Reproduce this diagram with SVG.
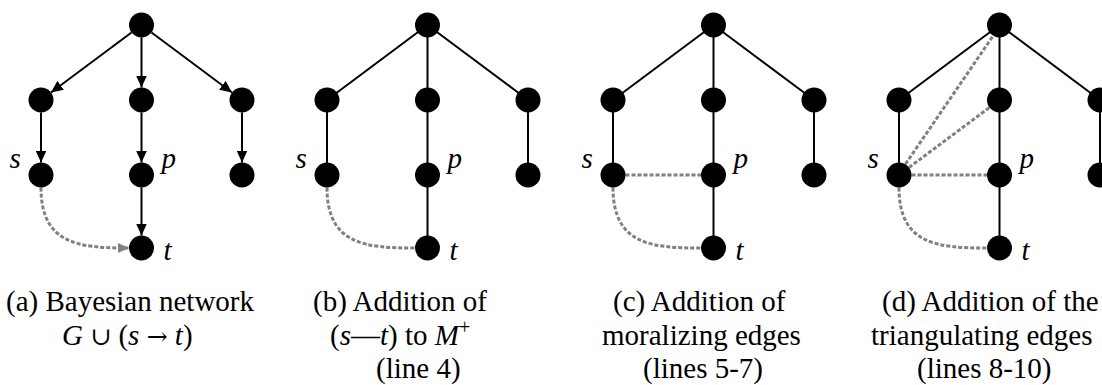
<svg xmlns="http://www.w3.org/2000/svg" width="1102" height="385" viewBox="0 0 1102 385">
  <defs>
    <marker id="arrow" markerUnits="userSpaceOnUse" markerWidth="12" markerHeight="11" refX="12" refY="5.5" orient="auto">
      <path d="M0,0 L12,5.5 L0,11 Z" fill="#000"/>
    </marker>
    <marker id="arrow-gray" markerUnits="userSpaceOnUse" markerWidth="11" markerHeight="10" refX="11" refY="5" orient="auto">
      <path d="M0,0 L11,5 L0,10 Z" fill="#808080"/>
    </marker>
  </defs>

  <!-- connectors: solid edges in black, added edges dashed grey -->
  <g id="connectors" fill="none">
    <g id="edges-a">
      <g stroke="#000" stroke-width="2" marker-end="url(#arrow)">
        <line x1="131.5" y1="32.5" x2="51" y2="92.5"/>
        <line x1="141.5" y1="37.5" x2="141.5" y2="87.5"/>
        <line x1="151.5" y1="32.5" x2="232" y2="92.5"/>
        <line x1="41" y1="112.5" x2="41" y2="162.5"/>
        <line x1="141.5" y1="112.5" x2="141.5" y2="162.5"/>
        <line x1="242" y1="112.5" x2="242" y2="162.5"/>
        <line x1="141.5" y1="187.5" x2="141.5" y2="235.5"/>
      </g>
      <path stroke="#808080" stroke-width="3" stroke-dasharray="4 2" d="M41,187.5 C41,245 80,248 129,248" marker-end="url(#arrow-gray)"/>
    </g>
    <g id="edges-b">
      <g stroke="#000" stroke-width="2">
        <line x1="427.5" y1="25" x2="327" y2="100"/>
        <line x1="427.5" y1="25" x2="427.5" y2="100"/>
        <line x1="427.5" y1="25" x2="528" y2="100"/>
        <line x1="327" y1="100" x2="327" y2="175"/>
        <line x1="427.5" y1="100" x2="427.5" y2="175"/>
        <line x1="528" y1="100" x2="528" y2="175"/>
        <line x1="427.5" y1="175" x2="427.5" y2="248"/>
      </g>
      <path stroke="#808080" stroke-width="3" stroke-dasharray="4 2" d="M327,187.5 C327,245 366,248 415,248"/>
    </g>
    <g id="edges-c">
      <g stroke="#000" stroke-width="2">
        <line x1="713.5" y1="25" x2="613" y2="100"/>
        <line x1="713.5" y1="25" x2="713.5" y2="100"/>
        <line x1="713.5" y1="25" x2="814" y2="100"/>
        <line x1="613" y1="100" x2="613" y2="175"/>
        <line x1="713.5" y1="100" x2="713.5" y2="175"/>
        <line x1="814" y1="100" x2="814" y2="175"/>
        <line x1="713.5" y1="175" x2="713.5" y2="248"/>
      </g>
      <g stroke="#808080" stroke-width="3" stroke-dasharray="4 2">
        <path d="M613,187.5 C613,245 652,248 701,248"/>
        <line x1="625.5" y1="175" x2="701" y2="175"/>
      </g>
    </g>
    <g id="edges-d">
      <g stroke="#000" stroke-width="2">
        <line x1="999.5" y1="25" x2="899" y2="100"/>
        <line x1="999.5" y1="25" x2="999.5" y2="100"/>
        <line x1="999.5" y1="25" x2="1100" y2="100"/>
        <line x1="899" y1="100" x2="899" y2="175"/>
        <line x1="999.5" y1="100" x2="999.5" y2="175"/>
        <line x1="1100" y1="100" x2="1100" y2="175"/>
        <line x1="999.5" y1="175" x2="999.5" y2="248"/>
      </g>
      <g stroke="#808080" stroke-width="3" stroke-dasharray="4 2">
        <path d="M899,187.5 C899,245 938,248 987,248"/>
        <line x1="911.5" y1="175" x2="987" y2="175"/>
        <line x1="909" y1="167.5" x2="989.5" y2="107.5"/>
        <line x1="905.5" y1="164" x2="993" y2="36"/>
      </g>
    </g>
  </g>

  <!-- nodes with their italic labels -->
  <g id="nodes" fill="#000" font-size="29">
    <!-- (a) -->
    <g id="a-root"><circle cx="141.5" cy="25" r="12.5"/></g>
    <g id="a-m1"><circle cx="41" cy="100" r="12.5"/></g>
    <g id="a-m2"><circle cx="141.5" cy="100" r="12.5"/></g>
    <g id="a-m3"><circle cx="242" cy="100" r="12.5"/></g>
    <g id="a-s"><circle cx="41" cy="175" r="12.5"/><text font-family="'Liberation Serif'" font-style="italic" x="9.5" y="168">s</text></g>
    <g id="a-p"><circle cx="141.5" cy="175" r="12.5"/><text font-family="'Liberation Serif'" font-style="italic" x="161.5" y="168">p</text></g>
    <g id="a-r"><circle cx="242" cy="175" r="12.5"/></g>
    <g id="a-t"><circle cx="141.5" cy="248" r="12.5"/><text font-family="'Liberation Serif'" font-style="italic" x="163.5" y="260">t</text></g>
    <!-- (b) -->
    <g id="b-root"><circle cx="427.5" cy="25" r="12.5"/></g>
    <g id="b-m1"><circle cx="327" cy="100" r="12.5"/></g>
    <g id="b-m2"><circle cx="427.5" cy="100" r="12.5"/></g>
    <g id="b-m3"><circle cx="528" cy="100" r="12.5"/></g>
    <g id="b-s"><circle cx="327" cy="175" r="12.5"/><text font-family="'Liberation Serif'" font-style="italic" x="295.5" y="168">s</text></g>
    <g id="b-p"><circle cx="427.5" cy="175" r="12.5"/><text font-family="'Liberation Serif'" font-style="italic" x="447.5" y="168">p</text></g>
    <g id="b-r"><circle cx="528" cy="175" r="12.5"/></g>
    <g id="b-t"><circle cx="427.5" cy="248" r="12.5"/><text font-family="'Liberation Serif'" font-style="italic" x="449.5" y="260">t</text></g>
    <!-- (c) -->
    <g id="c-root"><circle cx="713.5" cy="25" r="12.5"/></g>
    <g id="c-m1"><circle cx="613" cy="100" r="12.5"/></g>
    <g id="c-m2"><circle cx="713.5" cy="100" r="12.5"/></g>
    <g id="c-m3"><circle cx="814" cy="100" r="12.5"/></g>
    <g id="c-s"><circle cx="613" cy="175" r="12.5"/><text font-family="'Liberation Serif'" font-style="italic" x="581.5" y="168">s</text></g>
    <g id="c-p"><circle cx="713.5" cy="175" r="12.5"/><text font-family="'Liberation Serif'" font-style="italic" x="733.5" y="168">p</text></g>
    <g id="c-r"><circle cx="814" cy="175" r="12.5"/></g>
    <g id="c-t"><circle cx="713.5" cy="248" r="12.5"/><text font-family="'Liberation Serif'" font-style="italic" x="735.5" y="260">t</text></g>
    <!-- (d) -->
    <g id="d-root"><circle cx="999.5" cy="25" r="12.5"/></g>
    <g id="d-m1"><circle cx="899" cy="100" r="12.5"/></g>
    <g id="d-m2"><circle cx="999.5" cy="100" r="12.5"/></g>
    <g id="d-m3"><circle cx="1100" cy="100" r="12.5"/></g>
    <g id="d-s"><circle cx="899" cy="175" r="12.5"/><text font-family="'Liberation Serif'" font-style="italic" x="867.5" y="168">s</text></g>
    <g id="d-p"><circle cx="999.5" cy="175" r="12.5"/><text font-family="'Liberation Serif'" font-style="italic" x="1019.5" y="168">p</text></g>
    <g id="d-r"><circle cx="1100" cy="175" r="12.5"/></g>
    <g id="d-t"><circle cx="999.5" cy="248" r="12.5"/><text font-family="'Liberation Serif'" font-style="italic" x="1021.5" y="260">t</text></g>
  </g>

  <!-- captions -->
  <g id="captions" fill="#000" font-size="29">
    <text font-family="'Liberation Serif'" x="6" y="311">(a) Bayesian network</text>
    <text font-family="'Liberation Serif'" x="62" y="345"><tspan font-style="italic">G</tspan> <tspan font-family="'DejaVu Serif'" font-size="25">&#x222A;</tspan> (<tspan font-style="italic">s</tspan> <tspan font-family="'DejaVu Serif'" font-size="25">&#x2192;</tspan> <tspan font-style="italic">t</tspan>)</text>

    <text font-family="'Liberation Serif'" x="313" y="311">(b) Addition of</text>
    <text font-family="'Liberation Serif'" x="330" y="345">(<tspan font-style="italic">s</tspan>&#x2014;<tspan font-style="italic">t</tspan>) to <tspan font-style="italic">M</tspan><tspan font-size="20" dy="-11">+</tspan></text>
    <text font-family="'Liberation Serif'" x="376" y="378">(line 4)</text>

    <text font-family="'Liberation Serif'" x="613" y="311">(c) Addition of</text>
    <text font-family="'Liberation Serif'" x="602" y="345">moralizing edges</text>
    <text font-family="'Liberation Serif'" x="643" y="378">(lines 5-7)</text>

    <text font-family="'Liberation Serif'" x="882" y="311">(d) Addition of the</text>
    <text font-family="'Liberation Serif'" x="871" y="345">triangulating edges</text>
    <text font-family="'Liberation Serif'" x="917" y="378">(lines 8-10)</text>
  </g>
</svg>
